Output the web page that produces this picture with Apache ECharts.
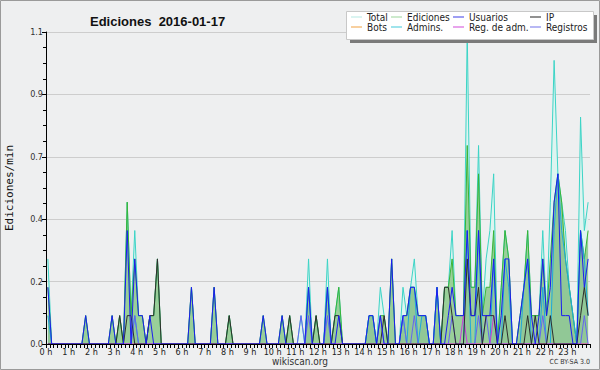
<!DOCTYPE html>
<html>
<head>
<meta charset="utf-8">
<script src="https://cdn.jsdelivr.net/npm/echarts@6/dist/echarts.min.js"></script>
<style>
html, body { margin: 0; padding: 0; background: #eeeff0; }
#chart { width: 600px; height: 370px; }
</style>
</head>
<body>
<div id="chart"></div>
<script>
// edits counted per 10-minute bin (144 bins over the day), one row = 4 hours
const total = [
	3,0,0,0,0,0, 0,0,0,0,1,0, 0,0,0,0,0,1, 0,1,0,5,1,4,
	1,1,0,1,1,3, 0,0,0,0,0,0, 0,0,2,0,0,0, 0,0,2,0,0,0,
	1,0,0,0,0,0, 0,0,0,1,0,0, 0,0,1,0,1,0, 0,1,0,3,0,1,
	0,0,3,0,1,2, 0,0,0,0,0,0, 0,1,1,0,2,1, 0,3,0,0,2,1,
	2,3,1,1,1,0, 0,2,0,2,2,4, 1,1,1,11,2,2, 7,1,3,4,6,0,
	2,4,3,0,0,1, 2,4,1,1,1,4, 1,5,10,6,5,4, 2,1,0,8,4,5,
];
const ediciones = [
	2,0,0,0,0,0, 0,0,0,0,1,0, 0,0,0,0,0,1, 0,1,0,5,1,3,
	1,1,0,1,1,3, 0,0,0,0,0,0, 0,0,2,0,0,0, 0,0,2,0,0,0,
	1,0,0,0,0,0, 0,0,0,1,0,0, 0,0,1,0,1,0, 0,0,0,2,0,1,
	0,0,2,0,1,2, 0,0,0,0,0,0, 0,1,1,0,1,1, 0,3,0,0,1,1,
	2,2,1,1,1,0, 0,2,0,2,2,3, 1,1,1,7,2,2, 6,1,2,2,4,0,
	2,4,3,0,0,1, 2,4,1,1,1,3, 1,3,5,6,5,3, 2,1,0,4,3,4,
];
const usuarios = [
	2,0,0,0,0,0, 0,0,0,0,1,0, 0,0,0,0,0,1, 0,0,0,4,0,3,
	1,1,0,1,0,0, 0,0,0,0,0,0, 0,0,2,0,0,0, 0,0,2,0,0,0,
	0,0,0,0,0,0, 0,0,0,1,0,0, 0,0,1,0,0,0, 0,0,0,2,0,0,
	0,0,2,0,0,1, 0,0,0,0,0,0, 0,1,1,0,1,0, 0,3,0,0,1,1,
	2,2,1,1,1,0, 0,2,0,0,1,2, 1,1,1,4,1,1, 4,1,1,1,3,0,
	1,3,3,0,0,1, 2,3,1,0,1,3, 1,2,5,6,1,1, 1,0,0,4,2,3,
];
const ip = [
	0,0,0,0,0,0, 0,0,0,0,0,0, 0,0,0,0,0,0, 0,1,0,1,1,0,
	0,0,0,1,1,3, 0,0,0,0,0,0, 0,0,0,0,0,0, 0,0,0,0,0,0,
	1,0,0,0,0,0, 0,0,0,0,0,0, 0,0,0,0,1,0, 0,0,0,0,0,1,
	0,0,0,0,1,1, 0,0,0,0,0,0, 0,0,0,0,0,1, 0,0,0,0,0,0,
	0,0,0,0,0,0, 0,0,0,2,2,1, 0,0,0,3,1,1, 2,0,1,1,1,0,
	0,1,0,0,0,0, 0,1,0,1,0,0, 0,1,0,0,0,0, 0,0,0,1,2,1,
];
const bots = [
	0,0,0,0,0,0, 0,0,0,0,0,0, 0,0,0,0,0,0, 0,0,0,0,0,0,
	0,0,0,0,0,0, 0,0,0,0,0,0, 0,0,0,0,0,0, 0,0,0,0,0,0,
	0,0,0,0,0,0, 0,0,0,0,0,0, 0,0,0,0,0,0, 0,0,0,0,0,0,
	0,0,0,0,0,0, 0,0,0,0,0,0, 0,0,0,0,0,0, 0,0,0,0,0,0,
	0,0,0,0,0,0, 0,0,0,0,0,0, 0,0,0,0,0,0, 0,0,0,0,0,0,
	0,0,0,0,0,0, 0,0,0,0,0,0, 0,0,0,0,0,0, 0,0,0,0,0,0,
];
const admins = [
	1,0,0,0,0,0, 0,0,0,0,0,0, 0,0,0,0,0,0, 0,0,0,0,0,1,
	0,0,0,0,0,0, 0,0,0,0,0,0, 0,0,0,0,0,0, 0,0,0,0,0,0,
	0,0,0,0,0,0, 0,0,0,0,0,0, 0,0,0,0,0,0, 0,0,0,2,0,0,
	0,0,2,0,0,0, 0,0,0,0,0,0, 0,1,1,0,0,0, 0,0,0,0,1,0,
	2,2,0,1,1,0, 0,2,0,0,0,0, 0,0,0,4,0,0, 4,0,0,0,3,0,
	0,3,2,0,0,0, 2,3,0,0,0,2, 0,0,4,6,4,3, 2,1,0,4,3,1,
];
const regAdm = [
	0,0,0,0,0,0, 0,0,0,0,0,0, 0,0,0,0,0,0, 0,0,0,0,0,0,
	0,0,0,0,0,0, 0,0,0,0,0,0, 0,0,0,0,0,0, 0,0,0,0,0,0,
	0,0,0,0,0,0, 0,0,0,0,0,0, 0,0,0,0,0,0, 0,0,0,0,0,0,
	0,0,0,0,0,0, 0,0,0,0,0,0, 0,0,0,0,0,0, 0,0,0,0,0,0,
	0,0,0,0,0,0, 0,0,0,0,0,0, 0,0,1,0,0,0, 0,0,0,0,1,0,
	0,0,0,0,0,0, 0,0,0,0,0,0, 0,0,0,0,0,0, 0,0,0,0,0,0,
];
const registros = [
	0,0,0,0,0,0, 0,0,0,0,0,0, 0,0,0,0,0,0, 0,0,0,0,0,1,
	0,0,0,0,0,0, 0,0,0,0,0,0, 0,0,0,0,0,0, 0,0,0,0,0,0,
	0,0,0,0,0,0, 0,0,0,0,0,0, 0,0,0,0,0,0, 0,1,0,1,0,0,
	0,0,1,0,0,0, 0,0,0,0,0,0, 0,0,0,0,1,0, 0,0,0,0,1,0,
	0,1,0,0,0,0, 0,0,0,0,0,1, 0,0,0,0,0,0, 1,0,1,0,0,0,
	0,0,0,0,0,0, 0,0,0,0,0,1, 0,0,0,0,0,0, 0,0,0,0,1,0,
];

const hourLabels = [
	"0 h", "1 h", "2 h", "3 h", "4 h", "5 h", "6 h", "7 h", "8 h", "9 h", "10 h", "11 h",
	"12 h", "13 h", "14 h", "15 h", "16 h", "17 h", "18 h", "19 h", "20 h", "21 h", "22 h", "23 h",
];
const yLabels = ["0.0", "0.2", "0.4", "0.7", "0.9", "1.1"];
const legendNames = ["Total", "Ediciones", "Usuarios", "IP", "Bots", "Admins.", "Reg. de adm.", "Registros"];

const font = "'DejaVu Sans Condensed', 'DejaVu Sans', sans-serif";

// bin i sits at its centre; counts per 10 min -> edits per minute
const toPoints = (arr) => arr.map((c, i) => [i + 0.5, c / 10]);

const legendLayout = [
	{ color: "#b4e8e2", left: 351, top: 12 },
	{ color: "#9ad49a", left: 391, top: 12 },
	{ color: "#3c3ce6", left: 453, top: 12 },
	{ color: "#222222", left: 530, top: 12 },
	{ color: "#f0a040", left: 351, top: 22 },
	{ color: "#40c8d8", left: 391, top: 22 },
	{ color: "#d048d8", left: 453, top: 22 },
	{ color: "#7070e8", left: 530, top: 22 },
];

const line = (name, arr, color, extra) => Object.assign({
	name,
	type: "line",
	data: toPoints(arr),
	symbol: "none",
	silent: true,
	lineStyle: { color, width: 1 },
	itemStyle: { color },
}, extra || {});

const chart = echarts.init(document.getElementById("chart"), null, { renderer: "svg" });

chart.setOption({
	animation: false,
	backgroundColor: "#eeeff0",
	title: {
		text: "Ediciones  2016-01-17",
		left: 85,
		top: 10,
		textStyle: { fontFamily: "'Liberation Sans', Arial, sans-serif", fontSize: 13, fontWeight: "bold", color: "#111" },
	},
	legend: legendNames.map((name, i) => ({
		data: [{ name, icon: "rect", itemStyle: { color: legendLayout[i].color } }],
		left: legendLayout[i].left,
		top: legendLayout[i].top,
		padding: 0,
		itemWidth: 11,
		itemHeight: 1,
		selectedMode: false,
		z: 10,
		textStyle: { fontFamily: font, fontSize: 10, color: "#222", padding: [0, 0, 0, 0] },
	})),
	grid: { left: 46, right: 10, top: 32, bottom: 26, containLabel: false, outerBoundsMode: "none" },
	xAxis: {
		type: "value",
		min: 0,
		max: 144,
		interval: 6,
		z: 10,
		axisLine: { lineStyle: { color: "#000", width: 1 } },
		axisTick: { show: true, length: 4, lineStyle: { color: "#000" } },
		minorTick: { show: true, splitNumber: 6, length: 4, lineStyle: { color: "#000" } },
		splitLine: { show: false },
		axisLabel: {
			formatter: (v) => hourLabels[v / 6] || "",
			fontFamily: font,
			fontSize: 9,
			color: "#222",
			margin: 3,
		},
	},
	yAxis: {
		type: "value",
		min: 0,
		max: 1.1,
		interval: 0.22,
		name: "Ediciones/min",
		nameLocation: "middle",
		nameGap: 31,
		nameTextStyle: { fontFamily: "'DejaVu Sans Mono', monospace", fontSize: 11, color: "#111" },
		axisLine: { show: true, lineStyle: { color: "#000", width: 1 } },
		axisTick: { show: true, length: 4, lineStyle: { color: "#000" } },
		minorTick: { show: true, splitNumber: 4, length: 3, lineStyle: { color: "#000" } },
		splitLine: { lineStyle: { color: "#cdcdcd", width: 1 } },
		axisLabel: {
			formatter: (v) => yLabels[Math.round(v / 0.22)] || "",
			fontFamily: font,
			fontSize: 9,
			color: "#333",
			margin: 3,
		},
	},
	series: [
		line("Total", total, "#3cd4c6", { areaStyle: { color: "#def4f0", opacity: 1 } }),
		line("Ediciones", ediciones, "#38b438", { areaStyle: { color: "#99cf99", opacity: 1 } }),
		line("Admins.", admins, "#1ea8dc", { areaStyle: { color: "rgba(20,90,110,0.08)" } }),
		line("Bots", bots, "#f0a040"),
		line("Registros", registros, "#6464f0"),
		line("Reg. de adm.", regAdm, "#c83cdc"),
		line("IP", ip, "#2e2e2e"),
		line("Usuarios", usuarios, "#1c1cf0"),
	],
	graphic: [
		{ type: "rect", z: 20, silent: true, shape: { x: 0.5, y: 0.5, width: 599, height: 369 }, style: { fill: "none", stroke: "#9a9a9a", lineWidth: 1 } },
		{ type: "rect", z: 6, silent: true, shape: { x: 350, y: 15, width: 247, height: 28 }, style: { fill: "#7a7a7a" } },
		{ type: "rect", z: 7, silent: true, shape: { x: 346.5, y: 11.5, width: 247, height: 28 }, style: { fill: "#ffffff", stroke: "#c8c8c8", lineWidth: 1 } },
		{ type: "text", z: 7, silent: true, x: 300, y: 361, style: { text: "wikiscan.org", align: "center", verticalAlign: "middle", fontFamily: font, fontSize: 10, fill: "#333" } },
		{ type: "text", z: 7, silent: true, x: 590, y: 362, style: { text: "CC BY-SA 3.0", align: "right", verticalAlign: "middle", fontFamily: font, fontSize: 7, fill: "#333" } },
	],
});
</script>
</body>
</html>
